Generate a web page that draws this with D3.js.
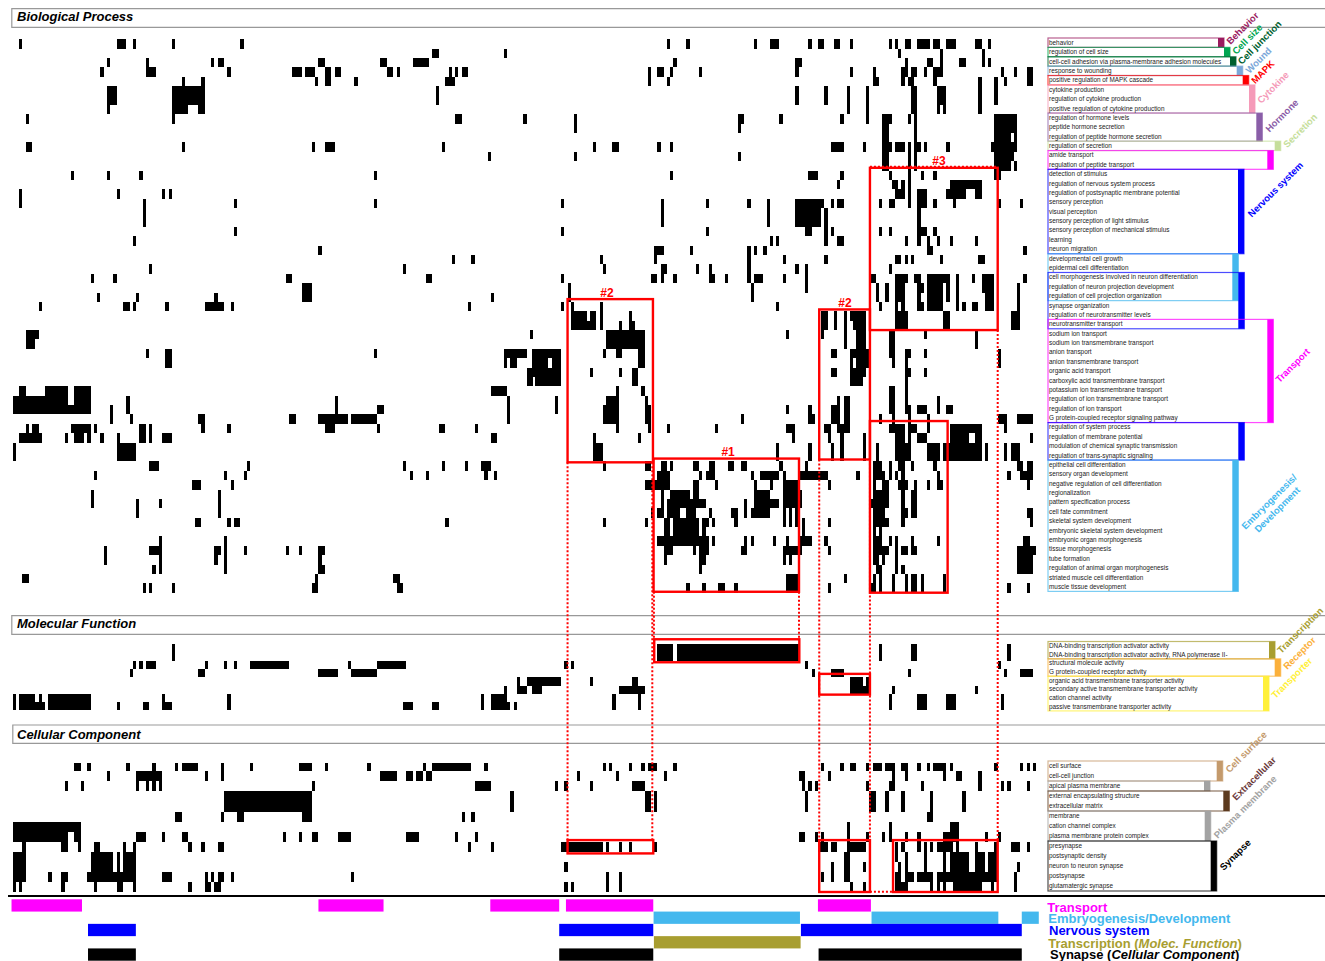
<!DOCTYPE html>
<html><head><meta charset="utf-8">
<script src="https://cdnjs.cloudflare.com/ajax/libs/d3/7.8.5/d3.min.js"></script>
<style>html,body{margin:0;padding:0;background:#fff}svg{display:block;font-family:"Liberation Sans",Arial,sans-serif}</style>
</head><body>
<svg id="c" width="1325" height="961"></svg>
<script>
const bpTerms=["behavior","regulation of cell size","cell-cell adhesion via plasma-membrane adhesion molecules","response to wounding","positive regulation of MAPK cascade","cytokine production","regulation of cytokine production","positive regulation of cytokine production","regulation of hormone levels","peptide hormone secretion","regulation of peptide hormone secretion","regulation of secretion","amide transport","regulation of peptide transport","detection of stimulus","regulation of nervous system process","regulation of postsynaptic membrane potential","sensory perception","visual perception","sensory perception of light stimulus","sensory perception of mechanical stimulus","learning","neuron migration","developmental cell growth","epidermal cell differentiation","cell morphogenesis involved in neuron differentiation","regulation of neuron projection development","regulation of cell projection organization","synapse organization","regulation of neurotransmitter levels","neurotransmitter transport","sodium ion transport","sodium ion transmembrane transport","anion transport","anion transmembrane transport","organic acid transport","carboxylic acid transmembrane transport","potassium ion transmembrane transport","regulation of ion transmembrane transport","regulation of ion transport","G protein-coupled receptor signaling pathway","regulation of system process","regulation of membrane potential","modulation of chemical synaptic transmission","regulation of trans-synaptic signaling","epithelial cell differentiation","sensory organ development","negative regulation of cell differentiation","regionalization","pattern specification process","cell fate commitment","skeletal system development","embryonic skeletal system development","embryonic organ morphogenesis","tissue morphogenesis","tube formation","regulation of animal organ morphogenesis","striated muscle cell differentiation","muscle tissue development"];
const bpHits=[
"2 32-34 37 49 70 204 210 231 236-238 248 251-252 256-257 261 273 275 278-279 282-285 287-288 291-293 300-301 304",
"129-130 151 276 289 302",
"29 41 61 63-64 94-95 113-114 123-127 206 244-245 278 285-286 289 295-296 302 304",
"27 41-43 66 86-88 90-92 96-97 99-100 115-116 118 134 136 138-139 198 201-202 205 214 244 261 268 277-278 280-281 284 287-289 308 312 316-317",
"52 58 93 96-97 105 133-135 198 204 268-269 277 279-280 287 301 306 309 316-317",
"29-31 49-58 130 244 253 260 266 280-281 288-290 301 306",
"29-31 49-58 130 244 253 260 266 280-281 288-290 301 306",
"29 49-53 57-58 260 266 280-281 288 290 301",
"4 49 136-137 157 175 226-227 239 258 266 271-273 279 281 306-312",
"175 226 271-272 281 306-312",
"271-272 281 306-310 312",
"4-5 52 92 96-98 132 181 187-188 201 205 255-258 265 271-273 275-277 279 281-282 284 291 305-312",
"146 175 226 271-272 279 281 306-311",
"271-272 279 281 306-310 312",
"18 29 39 111 205 248-250 258 273 279 283 287 306-307",
"257 274-275 277 279 292-301",
"2 32 46 48 275-277 279 282-284 291-296 300-301",
"2 40 68 111 171 202 216 229 235 244-252 255 257-258 270 273-274 279 282-284 287 293 307 314",
"40 202 235 244-251 253 282",
"40 202 235 244-251 253 282",
"68 171 216 247-248 253 255 270 273 282-284 287",
"37 236 238 253 257-258 278 282 285 288 292 300",
"94 200-202 211 229 231 234 285-286 315",
"135 141 183 200 229 240 253 275-276 278 280 289 301-302",
"42 120 184 202-203 213 217 229 244 247 273",
"24 31 84-85 127-128 171 199-200 202 206 217-218 222 229 231-233 240 247 267-268 275-278 281-282 285-291 294 299 302-305 315",
"89-91 173 230 247 269 272 275-277 282-283 285-289 291 294 302-305 313",
"26 38 62 89-91 147 173 230 269 272 275-277 282 285-289 291 294 303-305 313",
"8 34-35 37 47 59-64 67 140 171 174 183 238 270 275 277 282-283 285-289 294 296 299-300 303-305 313",
"174-178 180-181 183 192 252-253 256 259 261-265 275-278 290-291 311-313",
"174-181 183 189 192-193 252-253 256 259 262-265 275-278 290-291 311-313",
"4-7 161 185-196 241 252 259 263-265 273-274 284 300",
"4-6 185-196 259 263-265 273-274 300",
"41 47-48 111 151-157 162-170 184 188-189 195-196 255-256 261-266 273-274 278-279 284 307",
"47-48 151 153-154 162-166 168-170 195-196 261 263-266 274 278 307",
"158 161-170 180 189 193-194 255-256 261-265 278-279 284",
"158 161 163-170 193-194 261-264 278",
"2-3 10-16 19-23 147-151 188 196 273-274 278",
"0-16 19-23 35 99 152 169 185-188 197 257 259-260 273-274 278 288",
"0-23 30 35 99 112-113 152 169 184-188 197-198 241 248 255-257 259-260 273-274 278-279 282-284 288 291-292",
"30 36 57-58 85-86 94-102 104-111 152 184-188 197-198 227 248-249 255-257 259-260 270 274 279 285 307-309 313-317",
"4 6-7 18-23 25 39-40 42 58 66 96-98 112 131-132 142 188 198 204 219 241-243 253-254 257-260 273-277 279-281 285 292-301 309",
"2-8 16 19-21 23 27 32 39-40 42 46-48 147-148 181 195 243 254 258 265 275-277 279 282-284 292-297 300-301 317",
"0 32-37 181-183 238 248 255 258 265 269 275-279 285-288 290-301 303 309 311-313",
"0 32-37 181-183 238 248 255 258 265 269 275-279 285-288 290-301 303 309 311-313",
"42-44 72 120 132 139 144-146 184 197-198 202-203 205 212-213 217-218 223-224 227-228 239 247 268-270 273 276-277 280 287 313-314 316-317",
"25 65 71 122 127 145 148 201-204 214 216-218 230 233-238 240 245-253 263 268-271 273 275 277 288 310 314-317",
"55-57 67 197-204 212-213 219 231 236 240-244 254 268 271-272 276-278 281 285 288-289 316",
"24 63 202 205-210 212-213 231-235 240-245 268-272 277 280-281",
"24 38 45 63 202 204-215 228 231-238 240-245 267-272 277 280-281",
"38 63 199 201-202 204-207 210-212 217 224-225 228 230-235 240 242 244 268-271 277-278 280-281 316-317",
"56-57 66 68-69 133 184 197 203-204 206-213 215-216 218 225 240 242 244 246 254 268-272 277 317",
"203-204 206-213 215 246 268 270",
"45 65 201-216 218 228 230 237 241 245-248 253 268-270 273 275 280 288 315-316",
"28 42-45 62-63 65 71 84 88 94-95 203-205 212 214-216 227-228 240-245 254 268-272 275 277-278 280-281 313-318",
"28 45 62 65 94 203 214-215 240 242 268-269 271 275 313-317",
"43 45 65 94-95 214 269-270 275 277 313-317",
"3-4 93 117-118 241-244 259 268 270 274 278 280-281 283 290",
"40 42 49 92-93 118-119 210 215 220-221 225 241-244 254 267-268 270 274 278 280-281 283 290 310 316"
];
const mfTerms=["DNA-binding transcription activator activity","DNA-binding transcription activator activity, RNA polymerase II-","structural molecule activity","G protein-coupled receptor activity","organic acid transmembrane transporter activity","secondary active transmembrane transporter activity","cation channel activity","passive transmembrane transporter activity"];
const mfHits=[
"49 201-205 207-244 270 280-281 310",
"49 201-205 207-244 270 280-281 310",
"37 39 41-43 59 65 68 73-84 103 112-120 172 174 247 307",
"36 57-58 94-99 104-111 249 255-258 279 309 314-317",
"155 158 161-170 180 193-194 261-264 266",
"151 155-157 162-164 189-196 261-266 274 300",
"0 2-6 8 11-23 46 66 144 147-151 187 195 273 282-284 291-293 308",
"0 2-9 11-23 32 40-41 46-48 66 120-122 129-130 144 147-152 154 187 195 273 282-284 291-293 308"
];
const ccTerms=["cell surface","cell-cell junction","apical plasma membrane","external encapsulating structure","extracellular matrix","membrane","cation channel complex","plasma membrane protein complex","presynapse","postsynaptic density","neuron to neuron synapse","postsynapse","glutamatergic synapse"];
const ccHits=[
"19-20 23 35 43 50 52-56 64 73 88-91 96 109 126 129-140 145 184 186 192 196 198-200 206 252 258 261-262 266 268-270 272-274 277-278 282 285 287-290 292 306 314 316 318",
"29 38-45 59 64 113-117 121-122 124-125 127-128 176 188 203 245-246 254 274 278 290 294-295 301",
"16 21 38 41 43 45 92 142-146 169 172 180 193-196 246 248 250 266 273-274 283 301 308 310 316",
"65-91 153 197-198 200 247 267-268 272 277 286 296",
"65-91 153 197-198 200 247 267-268 272 277 286 296",
"50-51 64 69-70 89-91 138 141 285-286",
"0-20 260 273 292-294",
"0-16 19-20 38-40 46 52-53 83 88 92-93 100-103 121-124 136 142 245-246 250 252 260 266 271 273 278 282 290-294 303 307",
"3 15-16 20 25-26 34 37 54 58 63-64 140 147 171-183 185 189 192 200 251-253 255-256 260-265 275 277 282 284 286 288-292 294 300 306 311-313 316",
"0-3 24-30 32 34-37 259-260 275 278 284 290 292-297 300-302 304-306",
"0-3 24-30 32 34-37 172 255 259-260 265 276 278 284 290 292-297 300-302 304-306 313",
"0-3 11 15-16 23-37 46-48 59 61 63-64 67 104 185 189 252 255 259-260 275-276 278-280 282-286 288-306 312",
"0 2 15 25 32-33 37 54 59-60 62-63 172 174 185 189 261 265 275-278 286 288 290 293-301 305 312"
];
// term groups: [name, first row, row after last]
const bpGroups=[["Behavior",0,1],["Cell size",1,2],["Cell junction",2,3],["Wound",3,4],["MAPK",4,5],["Cytokine",5,8],["Hormone",8,11],["Secretion",11,12],["Transport",12,14],["Nervous system",14,23],["Development",23,28],["Nervous system",25,31],["Transport",30,41],["Nervous system",41,45],["Embryogenesis",45,59]];
const mfGroups=[["Transcription",0,2],["Receptor",2,4],["Transporter",4,8]];
const ccGroups=[["Cell surface",0,2],["Plasma membrane",2,3],["Extracellular",3,5],["Plasma membrane",5,8],["Synapse",8,13]];
// cluster outlines: [first col, last col, first row, last row, label, label col]
const bpBoxes=[[173,199.6,27.7,45.1,"#2",185.3],[199.8,245.1,44.7,58.9,"#1",223],[251.4,267.2,28.8,44.8,"#2",259.4],[267.2,307,13.7,31,"#3",288.7],[267.2,291.4,40.7,59,""]];
const mfBoxes=[[200,245.2,-0.57,2.2],[251.4,267.2,3.6,6.1]];
const ccBoxes=[[173,199.7,7.83,9.15],[251.4,267.2,7.83,12.97],[274.4,307,7.83,12.97]];
// annotation strips: [label, spans in columns]
const strips=[
 ["Transport",[[-0.3,21.35],[94,114],[146.8,170.4],[172.5,199.7],[251,267.5]]],
 ["Embryogenesis/Development",[[199.8,245.4],[267.7,307.2],[314.5,319.8]]],
 ["Nervous system",[[23.2,37.9],[170.4,199.7],[245.7,314.5]]],
 ["Transcription",[[199.9,245.6]]],
 ["Synapse",[[23.2,37.9],[170.4,199.7],[251.2,314.5]]]
];

/* ---- styles and layout ---- */
const col={"Behavior":"#9b1b5f","Cell size":"#00a651","Cell junction":"#00602f","Wound":"#7ba7d9","MAPK":"#ff0000","Cytokine":"#f59ab8","Hormone":"#8a5ea8","Secretion":"#c5de9a","Transport":"#ff00ff","Nervous system":"#0000ff","Development":"#44b8ee","Embryogenesis":"#44b8ee","Embryogenesis/Development":"#44b8ee","Transcription":"#a89e30","Receptor":"#fbb03b","Transporter":"#fff03a","Cell surface":"#c49a6c","Plasma membrane":"#a3a3a3","Extracellular":"#5c3a1e","Synapse":"#000000"};
const bpRight=[1224,1230,1236,1242.7,1248.7,1255,1262.3,1280.7,1273.3,1244,1238.3,1244.3,1273.3,1244.3,1238.3];
const mfRight=[1275,1280.7,1269];
const ccRight=[1222.7,1210,1229.3,1210.7,1216.7];
const rotLabels=[["Behavior",1226,45],["Cell size",1231.7,55],["Cell junction",1237.3,65],["Wound",1245,74],["MAPK",1250.7,84.3],["Cytokine",1256.7,104],["Hormone",1265,132.7],["Secretion",1282.7,148.3],["Nervous system",1247.3,217.7],["Transport",1275,383.3],["Embryogenesis/",1241,530,"#44b8ee"],["Development",1254,533,"#44b8ee"],["Transcription",1276.7,654],["Receptor",1282.7,670],["Transporter",1271,699],["Cell surface",1225,773.3],["Extracellular",1231.7,801,"#6b3a3a"],["Plasma membrane",1213.3,839],["Synapse",1219.3,871]];

const svg=d3.select("#c");
const xCol=d3.scaleLinear().domain([0,159,161.3,320]).range([12.5,530,530,530+158.7*3.21]);
const yBP=d3.scaleLinear().domain([0,59]).range([39.3,592.7]);
const yMF=d3.scaleLinear().domain([0,8]).range([644,710.4]);
const yCC=d3.scaleLinear().domain([0,13]).range([761,892.3]);
const lBP=d3.scaleLinear().domain([0,59]).range([38,591.4]);
const lMF=d3.scaleLinear().domain([0,8]).range([641.5,710.9]);
const lCC=d3.scaleLinear().domain([0,13]).range([761,891]);

function parseRuns(s){return s.split(" ").map(t=>{const p=t.split("-").map(Number);return [p[0],p.length>1?p[1]:p[0]];});}

/* section headers */
[["Biological Process",11.8,8.7,27.3,21],["Molecular Function",11.8,615.7,634.3,628],["Cellular Component",12.8,725,743.3,739]].forEach(h=>{
  svg.append("path").attr("d",`M1325,${h[2]}H${h[1]}V${h[3]}H1325`).attr("fill","none").attr("stroke","#999").attr("stroke-width",1.2);
  svg.append("text").attr("x",17).attr("y",h[4]).attr("font-size",13).attr("font-weight","bold").attr("font-style","italic").text(h[0]);
});

/* heat maps */
svg.append("clipPath").attr("id","ccClip").append("rect").attr("x",0).attr("y",763).attr("width",1325).attr("height",140);
function heat(hits,y,clip){
  const g=svg.append("g").attr("shape-rendering","crispEdges");
  if(clip)g.attr("clip-path","url(#"+clip+")");
  hits.forEach((s,r)=>{
    g.selectAll(null).data(parseRuns(s)).enter().append("rect")
      .attr("x",d=>xCol(d[0])).attr("width",d=>Math.max(3,xCol(d[1]+1)-xCol(d[0])))
      .attr("y",y(r)).attr("height",y(r+1)-y(r)).attr("fill","#000");
  });
}
heat(bpHits,yBP);heat(mfHits,yMF);heat(ccHits,yCC,"ccClip");

/* right-hand term panels */
function panel(terms,groups,right,l){
  const g=svg.append("g");
  groups.forEach((d,i)=>{
    const c=col[d[0]],w=6;
    g.append("rect").attr("x",1048).attr("y",l(d[1])).attr("width",right[i]-1048).attr("height",l(d[2])-l(d[1]))
      .attr("fill","none").attr("stroke",c).attr("stroke-width",1.2).attr("stroke-opacity",.7);
    g.append("rect").attr("x",right[i]-w).attr("y",l(d[1])).attr("width",w).attr("height",l(d[2])-l(d[1])).attr("fill",c);
  });
  g.selectAll("text").data(terms).enter().append("text").attr("x",1049)
    .attr("y",(d,i)=>(l(i)+l(i+1))/2+2.2).attr("font-size",6.4).attr("fill","#222").text(d=>d);
}
panel(bpTerms,bpGroups,bpRight,lBP);
panel(mfTerms,mfGroups,mfRight,lMF);
panel(ccTerms,ccGroups,ccRight,lCC);

svg.append("g").selectAll("text").data(rotLabels).enter().append("text")
  .attr("transform",d=>`translate(${d[1]+4.5},${d[2]}) rotate(-45)`)
  .attr("font-size",9.5).attr("font-weight","bold").attr("fill",d=>d[3]||col[d[0]]).text(d=>d[0]);

/* dotted links */
const links=[[173,yBP(45.1),yCC(7.83)],[199.4,yBP(45.1),yCC(7.83)],[199.9,yBP(58.9),yMF(-0.57)],[245.1,yBP(58.9),yMF(-0.57)],[251.4,yBP(44.8),yCC(7.83)],[267.2,yBP(44.8),yCC(7.83)],[307,yBP(31),yCC(7.83)]];
const dot=svg.append("g").attr("stroke","#f00").attr("stroke-width",2).attr("stroke-dasharray","2,2").attr("fill","none");
links.forEach(d=>dot.append("line").attr("x1",xCol(d[0])).attr("x2",xCol(d[0])).attr("y1",d[1]).attr("y2",d[2]));
dot.append("line").attr("x1",xCol(267.2)).attr("x2",xCol(307)).attr("y1",yBP(13.6)).attr("y2",yBP(13.6));
dot.append("line").attr("x1",xCol(267.2)).attr("x2",xCol(274.4)).attr("y1",yCC(12.95)).attr("y2",yCC(12.95));

/* cluster boxes */
function boxes(list,y){
  list.forEach(b=>{
    svg.append("rect").attr("x",xCol(b[0])).attr("width",xCol(b[1])-xCol(b[0]))
      .attr("y",y(b[2])).attr("height",y(b[3])-y(b[2])).attr("fill","none").attr("stroke","#f00").attr("stroke-width",2.4);
    if(b[4])svg.append("text").attr("x",xCol(b[5])).attr("y",y(b[2])-2.5).attr("text-anchor","middle")
      .attr("font-size",12).attr("font-weight","bold").attr("fill","#f00").text(b[4]);
  });
}
boxes(bpBoxes,yBP);boxes(mfBoxes,yMF);boxes(ccBoxes,yCC);

/* separator + strips */
svg.append("line").attr("x1",8).attr("x2",1325).attr("y1",896).attr("y2",896).attr("stroke","#000").attr("stroke-width",2);
const yStrip=d3.scaleBand().domain(strips.map(d=>d[0])).range([899.3,960.7]);
strips.forEach(s=>{
  svg.selectAll(null).data(s[1]).enter().append("rect")
    .attr("x",d=>xCol(d[0])).attr("width",d=>xCol(d[1])-xCol(d[0]))
    .attr("y",yStrip(s[0])).attr("height",yStrip.bandwidth())
    .attr("fill",col[s[0]]);
});

/* legend */
const lg=[["Transport",1047.3,911.7,"#ff00ff"],["Embryogenesis/Development",1048.3,922.7,"#44b8ee"],["Nervous system",1049,935,"#0000ff"],["Transcription (|Molec. Function|)",1048.3,947.7,"#a89e30"],["Synapse (|Cellular Component|)",1050,959.3,"#000"]];
lg.forEach(d=>{
  const t=svg.append("text").attr("x",d[1]).attr("y",d[2]).attr("font-size",13).attr("font-weight","bold").attr("fill",d[3]);
  d[0].split("|").forEach((p,i)=>t.append("tspan").attr("font-style",i===1?"italic":"normal").text(p));
});
</script>
</body></html>
